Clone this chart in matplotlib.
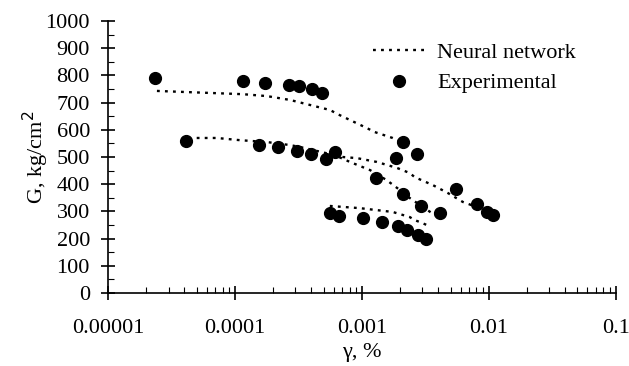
import matplotlib
matplotlib.use('Agg')
import matplotlib.pyplot as plt
from matplotlib.ticker import LogLocator, NullFormatter, MultipleLocator

plt.rcParams['font.family'] = ['Liberation Serif', 'DejaVu Serif']

# experimental points (strain %, G kg/cm2)
exp1_x = [2.34e-5, 1.16e-4, 1.74e-4, 2.66e-4, 3.19e-4, 4.04e-4, 4.84e-4, 2.1e-3, 2.7e-3]
exp1_g = [790, 780, 772, 765, 761, 750, 735, 555, 510]
exp2_x = [4.11e-5, 1.55e-4, 2.18e-4, 3.08e-4, 3.98e-4, 5.21e-4, 1.29e-3, 2.1e-3, 2.92e-3, 4.11e-3]
exp2_g = [559, 544, 536, 522, 511, 493, 422, 364, 320, 294]
exp3_x = [6.16e-4, 1.85e-3, 5.5e-3, 8.05e-3, 9.64e-3, 1.09e-2]
exp3_g = [518, 496, 382, 327, 298, 287]
exp4_x = [5.6e-4, 6.6e-4, 1.02e-3, 1.44e-3, 1.92e-3, 2.26e-3, 2.76e-3, 3.19e-3]
exp4_g = [294, 283, 276, 261, 246, 232, 213, 199]

# neural network predictions
nn1_x = [2.43e-5, 1.16e-4, 1.79e-4, 2.71e-4, 5.6e-4, 6.7e-4, 1.09e-3, 1.26e-3, 1.75e-3, 2.3e-3]
nn1_g = [743, 731, 724, 710, 673, 654, 607, 592, 570, 545]
nn2_x = [5.0e-5, 7.2e-5, 1.09e-4, 1.79e-4, 2.71e-4, 3.25e-4, 6.1e-4, 8.05e-4, 1.16e-3, 1.57e-3, 1.99e-3, 2.39e-3, 3.56e-3, 4.11e-3]
nn2_g = [570, 570, 562, 555, 544, 537, 507, 482, 452, 415, 379, 349, 294, 276]
nn3_x = [6.1e-4, 7.08e-4, 9.14e-4, 1.31e-3, 1.89e-3, 2.39e-3, 2.61e-3, 3.62e-3, 4.75e-3, 6.24e-3, 8.05e-3, 1.02e-2]
nn3_g = [507, 500, 496, 482, 460, 441, 426, 397, 368, 335, 316, 298]
nn4_x = [5.6e-4, 9.64e-4, 1.75e-3, 2.1e-3, 2.39e-3, 2.61e-3, 2.86e-3, 3.25e-3]
nn4_g = [320, 312, 298, 287, 279, 268, 261, 250]

fig = plt.figure(figsize=(6.29, 3.66), dpi=100)
ax = fig.add_axes([0.1717, 0.1995, 0.807, 0.743])

nn_style = dict(color='black', linestyle=(0, (1.2, 2.2)), linewidth=1.7)
ax.plot(nn1_x, nn1_g, label='Neural network', **nn_style)
ax.plot(nn2_x, nn2_g, **nn_style)
ax.plot(nn3_x, nn3_g, **nn_style)
ax.plot(nn4_x, nn4_g, **nn_style)

dot_style = dict(color='black', marker='o', linestyle='none', markersize=8.5)
ax.plot(exp1_x, exp1_g, label='Experimental', **dot_style)
ax.plot(exp2_x, exp2_g, **dot_style)
ax.plot(exp3_x, exp3_g, **dot_style)
ax.plot(exp4_x, exp4_g, **dot_style)

ax.set_xscale('log')
ax.set_xlim(1e-5, 0.1)
ax.set_ylim(0, 1000)
ax.set_xticks([1e-5, 1e-4, 1e-3, 1e-2, 1e-1])
ax.set_xticklabels(['0.00001', '0.0001', '0.001', '0.01', '0.1'])
ax.xaxis.set_minor_locator(LogLocator(base=10, subs=range(2, 10)))
ax.xaxis.set_minor_formatter(NullFormatter())
ax.yaxis.set_major_locator(MultipleLocator(100))
ax.yaxis.set_minor_locator(MultipleLocator(50))

for s in ['top', 'right']:
    ax.spines[s].set_visible(False)
for s in ['left', 'bottom']:
    ax.spines[s].set_linewidth(1.2)

ax.tick_params(axis='both', which='major', direction='inout', length=10, width=1.2,
               labelsize=16)
ax.tick_params(axis='both', which='minor', direction='in', length=4, width=0.8)
ax.tick_params(axis='y', which='major', pad=8)
ax.tick_params(axis='x', which='major', pad=14)

ax.set_xlabel('γ, %', fontsize=16, labelpad=3)
ax.set_ylabel('G, kg/cm$^2$', fontsize=16, labelpad=-4)

ax.legend(loc='upper left', bbox_to_anchor=(0.505, 0.955), frameon=False, fontsize=16,
          handlelength=2.34, handletextpad=0.54, labelspacing=0.45, borderaxespad=0)

fig.savefig('out.png', dpi=100)
